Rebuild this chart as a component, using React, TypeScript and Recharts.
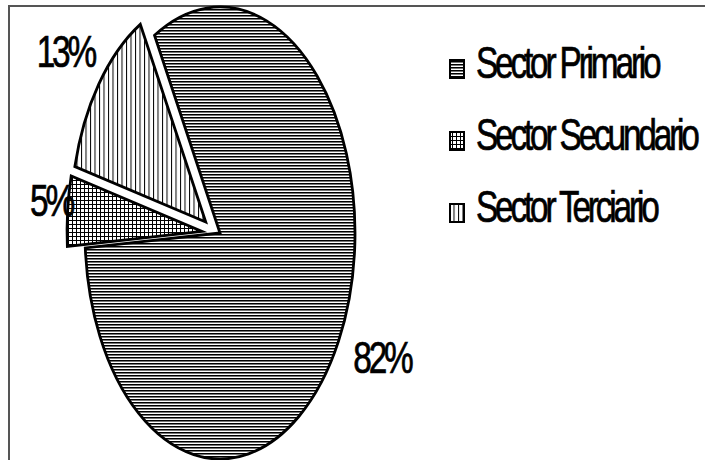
import React from 'react';
import { PieChart, Pie, Cell, Legend } from 'recharts';

// sector shares (percent of total)
const sectors = ['Sector Primario', 'Sector Secundario', 'Sector Terciario'];
const shares = [82, 5, 13];
const patternIds = ['pPrim', 'pSec', 'pTer'];

const data = sectors.map((name, i) => ({ name, value: shares[i] }));
const maxShare = Math.max(...shares);

const RAD = Math.PI / 180;
const STRETCH = 226 / 135; // the pie is drawn as a tall ellipse
const EXPLODE = 18;
const FONT = '"Liberation Sans", Arial, sans-serif';
const SQUEEZE = 0.76;

// narrow, tightly spaced text like the original
function NarrowText({ x, y, anchor = 'start', children }: any) {
  return (
    <g transform={`translate(${x},${y}) scale(${SQUEEZE},1)`}>
      <text x={0} y={0} textAnchor={anchor} fontSize={44} letterSpacing={-4.2} fontFamily={FONT}
        fill="#000" stroke="#000" strokeWidth={0.7}>
        {children}
      </text>
    </g>
  );
}

function EllipseSector(props: any) {
  const { cx, cy, outerRadius, startAngle, endAngle, fill } = props;
  const value = props.value ?? props.payload?.value;
  const mid = props.midAngle ?? (startAngle + endAngle) / 2;
  const off = value < maxShare ? EXPLODE : 0;
  const ox = cx + off * Math.cos(mid * RAD);
  const oy = cy - off * Math.sin(mid * RAD);
  const pt = (a: number) => [ox + outerRadius * Math.cos(a * RAD), oy - outerRadius * STRETCH * Math.sin(a * RAD)];
  const [x0, y0] = pt(startAngle);
  const [x1, y1] = pt(endAngle);
  const large = Math.abs(startAngle - endAngle) > 180 ? 1 : 0;
  const sweep = startAngle > endAngle ? 1 : 0;
  const d = `M${ox},${oy} L${x0},${y0} A${outerRadius},${outerRadius * STRETCH} 0 ${large} ${sweep} ${x1},${y1} Z`;
  return <path d={d} fill={fill} stroke="#000" strokeWidth={2.8} strokeLinejoin="miter" />;
}

function renderLabel(props: any) {
  const { cx, cy, midAngle, outerRadius, percent, value } = props;
  const text = `${Math.round(percent * 100)}%`;
  const dx = Math.cos(midAngle * RAD);
  const dy = -Math.sin(midAngle * RAD);
  const off = value < maxShare ? EXPLODE : 0;
  const px = cx + dx * (outerRadius + off);
  const py = cy + dy * (outerRadius * STRETCH + off);
  const w = text.length * 13 + 26;
  const h = 32;
  const edge = Math.min(w / 2 / Math.max(Math.abs(dx), 1e-6), h / 2 / Math.max(Math.abs(dy), 1e-6));
  const dist = edge + 16;
  // keep labels inside the chart area
  const x = Math.max(px + dx * dist, 25 + w / 2);
  const y = py + dy * dist - 7;
  return <NarrowText x={x} y={y + 15.5} anchor="middle">{text}</NarrowText>;
}

function SectorLegend(props: any) {
  const payload = props.payload || [];
  return (
    <svg width={265} height={210} style={{ overflow: 'visible' }}>
      {payload.map((item: any, i: number) => {
        const idx = sectors.indexOf(item.value);
        const base = 38 + i * 72;
        return (
          <g key={item.value}>
            <rect x={10} y={base - 18} width={14} height={18} fill={`url(#${patternIds[idx]})`} stroke="#000" strokeWidth={2} />
            <NarrowText x={36} y={base}>{item.value}</NarrowText>
          </g>
        );
      })}
    </svg>
  );
}

export default function App() {
  return (
    <div style={{ position: 'absolute', left: 0, top: 0, width: 705, height: 460, background: '#fff' }}>
      <div
        style={{
          position: 'absolute', left: 8, top: 5, width: 697, height: 455, boxSizing: 'border-box',
          borderLeft: '2px solid #555', borderTop: '2px solid #555',
        }}
      />
      <div style={{ position: 'absolute', left: 0, top: 0 }}>
        <PieChart width={705} height={460} margin={{ top: 0, right: 0, bottom: 0, left: 0 }}>
          <defs>
            <pattern id="pPrim" width={8} height={3} patternUnits="userSpaceOnUse">
              <rect width={8} height={3} fill="#fff" />
              <rect y={0} width={8} height={1} fill="#000" />
              <rect y={1} width={8} height={1} fill="#777" />
            </pattern>
            <pattern id="pSec" width={4} height={4} patternUnits="userSpaceOnUse">
              <rect width={4} height={4} fill="#fff" />
              <rect x={0} width={1} height={4} fill="#000" />
              <rect y={0} width={4} height={1} fill="#000" />
            </pattern>
            <pattern id="pTer" width={4.5} height={4} patternUnits="userSpaceOnUse">
              <rect width={4.5} height={4} fill="#fff" />
              <rect x={0} width={1} height={4} fill="#000" />
            </pattern>
          </defs>
          <Pie
            data={data}
            dataKey="value"
            nameKey="name"
            cx={220}
            cy={233}
            outerRadius={135}
            startAngle={119}
            endAngle={-241}
            stroke="#000"
            labelLine={false}
            label={renderLabel}
            shape={EllipseSector}
            inactiveShape={EllipseSector}
            activeShape={EllipseSector}
            isAnimationActive={false}
          >
            {data.map((d, i) => (
              <Cell key={d.name} fill={`url(#${patternIds[i]})`} />
            ))}
          </Pie>
          <Legend
            layout="vertical"
            align="right"
            verticalAlign="top"
            content={SectorLegend}
            wrapperStyle={{ left: 440, top: 40, width: 265, height: 210 }}
          />
        </PieChart>
      </div>
    </div>
  );
}
